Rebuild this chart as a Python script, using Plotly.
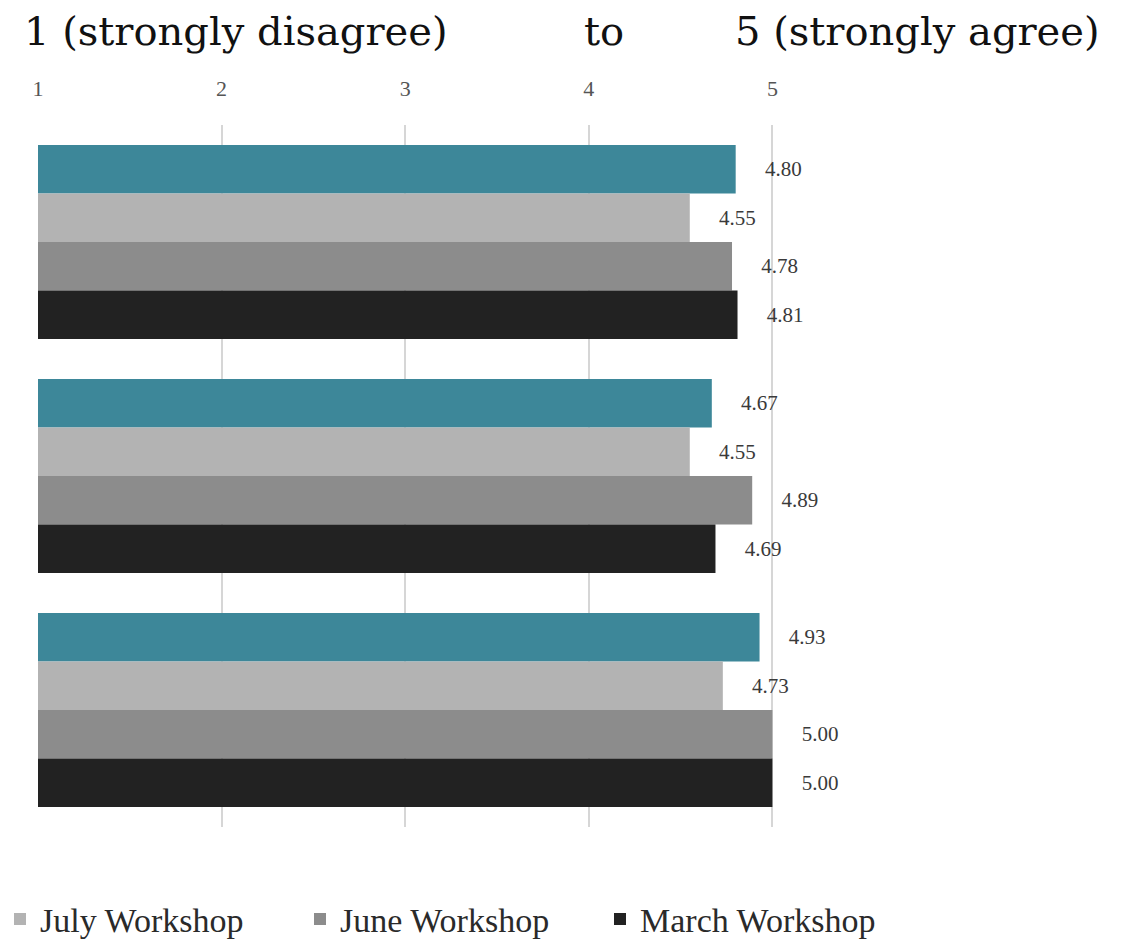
import plotly.graph_objects as go

categories = ["Item 1", "Item 2", "Item 3"]
series_names = ["Workshop (teal)", "July Workshop", "June Workshop", "March Workshop"]
teal_vals = [4.80, 4.67, 4.93]
july_vals = [4.55, 4.55, 4.73]
june_vals = [4.78, 4.89, 5.00]
march_vals = [4.81, 4.69, 5.00]
tick_vals = [1, 2, 3, 4, 5]

colors = ["#3d8799", "#b3b3b3", "#8c8c8c", "#222222"]
show_leg = [False, True, True, True]
all_vals = [teal_vals, july_vals, june_vals, march_vals]

serif = "Liberation Serif, Times New Roman, serif"
NB = "\u00a0"

fig = go.Figure()
for name, vals, col, sl in zip(series_names, all_vals, colors, show_leg):
    fig.add_trace(go.Bar(
        y=categories, x=vals, orientation="h", name=name,
        marker=dict(color=col, line=dict(width=0)),
        text=[NB * 5 + f"{v:.2f}" for v in vals],
        textposition="outside", cliponaxis=False,
        textfont=dict(family=serif, size=21, color="#3a3a3a"),
        showlegend=sl,
    ))

fig.update_layout(
    barmode="group", bargap=0.17, bargroupgap=0,
    width=1144, height=943,
    margin=dict(l=38, r=188, t=125, b=116),
    plot_bgcolor="white", paper_bgcolor="white",
    showlegend=True,
    legend=dict(orientation="h", xref="container", x=-0.01, xanchor="left",
                yref="container", y=0.025, yanchor="middle",
                font=dict(family=serif, size=34, color="#2a2a2a"),
                traceorder="normal", itemwidth=30,
                entrywidth=255, entrywidthmode="pixels"),
)
fig.update_xaxes(range=[1, 6], side="top", tickvals=tick_vals, ticktext=[str(t) for t in tick_vals],
                 showgrid=True, gridcolor="#d6d6d6", gridwidth=2, zeroline=False,
                 showline=False, ticks="", ticklabelstandoff=24,
                 tickfont=dict(family=serif, size=22, color="#555555"))
fig.update_yaxes(autorange="reversed", showticklabels=False, showgrid=False, zeroline=False, showline=False)

ann_font = dict(family="DejaVu Serif, serif", size=40, color="#111111")
for txt, xp in [("1 (strongly disagree)", 22), ("to", 582), ("5 (strongly agree)", 733)]:
    fig.add_annotation(text=txt, xref="paper", yref="paper", x=(xp - 38) / (1144 - 38 - 188),
                       xanchor="left", y=1 + 94 / (943 - 125 - 116), yanchor="middle",
                       showarrow=False, font=ann_font)

fig.write_html("out.html")
